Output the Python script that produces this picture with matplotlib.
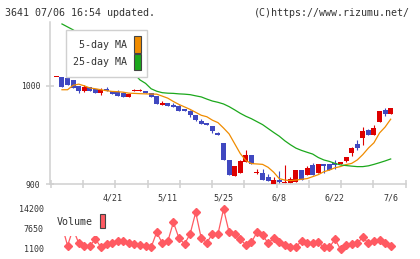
import matplotlib.pyplot as plt
from matplotlib.patches import Patch
import numpy as np

# 61 trading days, 2020/4/7 .. 2020/7/6
date_labels = ['4/21', '5/11', '5/25', '6/8', '6/22', '7/6']
date_index = [10, 20, 30, 40, 50, 60]

opens = [1009, 1009, 1008, 1006, 1000, 995, 999, 997, 993, 997,
         995, 994, 992.5, 989, 995, 995, 995, 993, 990, 980.6,
         982, 980, 979, 976, 974, 970.4, 964.6, 962, 959, 951.7,
         942, 924.5, 908, 911, 922, 929.6, 911.5, 911, 907, 900,
         904, 901.7, 900.7, 901.7, 914, 909, 919.4, 911, 920.4, 920.4,
         921, 920.4, 923.5, 932, 940.8, 947.2, 955.4, 949.4, 963.6, 975.8,
         971]
closes = [1009, 999, 1001, 998, 995, 999, 995, 993, 996, 995,
          992, 990, 989, 991.5, 995, 995, 993, 989, 981, 983,
          979, 978, 974.5, 974, 970.4, 965.3, 961, 960, 954.4, 949.7,
          924.5, 909, 918.4, 923, 929.6, 920, 911.5, 904, 903, 904,
          901.7, 901.7, 905, 914, 904, 916.7, 909, 920.4, 918.4, 914.3,
          919.4, 922.4, 927.6, 937, 937, 954, 949.4, 957, 974.8, 971,
          977.6]
highs = [1009, 1009, 1008, 1006, 1000, 1001, 999, 997, 998, 999,
         995, 996, 994, 991.5, 997, 997, 995, 993, 990, 985,
         982, 983, 980, 976, 975, 970.4, 966, 962, 959, 953,
         942, 924.5, 918.4, 924.5, 934.7, 929.6, 915.3, 915, 910, 907,
         913, 919, 907, 914, 914, 918, 921, 920.4, 920.4, 920.4,
         924.5, 922.4, 927.6, 938, 944.9, 958, 956.5, 960.2, 974.8, 977,
         977.6]
lows = [1009, 999, 1001, 998, 993, 994, 995, 993, 991, 995,
        992, 990, 989, 989, 995, 995, 993, 989, 981, 980.6,
        979, 978, 974.5, 974, 968, 964, 961, 960, 951.7, 949.7,
        924.5, 909, 908, 911, 922, 920, 909.7, 904, 903, 900,
        900, 901, 900.7, 901.7, 904, 909, 909, 911, 911, 914.3,
        915, 920.4, 922, 929, 934.7, 939.8, 949.4, 949.4, 963.6, 969,
        971]

ma5 = [np.nan, 996, 996, 1000.5, 1001.7, 1000, 997.8, 997, 996, 995,
       994.3, 994, 993.5, 992.5, 992.3, 992, 991.8, 991.6, 991.5, 989.5,
       987.4, 984, 981, 978.5, 976, 973, 970, 968.5, 965, 962.5,
       957, 951, 941, 931, 924, 920.8, 920.4, 920, 917, 912,
       905.5, 904, 903.5, 904, 904.8, 905.5, 907.5, 909.5, 912.5, 914.2,
       916.5, 917.8, 919.8, 921, 924.5, 930, 936.6, 942, 952, 958,
       966]
ma25 = [np.nan, 1063, 1060, 1057, 1053, 1049, 1045, 1041, 1037, 1033,
        1029, 1025, 1021, 1016, 1012, 1006, 1002.5, 997, 994.5, 993,
        992.5, 992.3, 991.8, 991.5, 991, 989.8, 988.7, 986.5, 984.5, 983.2,
        981.5, 978.8, 975.5, 972, 969, 966.5, 963.5, 960.5, 956.5, 952.5,
        948.7, 944, 940, 936.5, 934.2, 932.3, 930.5, 927, 924.5, 923,
        921, 919.4, 918.8, 918.2, 917.7, 917.7, 918.5, 920, 921.7, 923.5,
        925.5]

volume = [9000, 8800, 2180, 7700, 2970, 2080, 2080, 4375, 1640, 2740,
          2970, 3620, 3620, 2970, 2740, 2410, 2180, 1640, 6570, 2970,
          3620, 9840, 4600, 2740, 6010, 13100, 4600, 3170, 6010, 6010,
          14200, 6570, 6010, 4270, 2410, 3290, 6570, 5685, 2970, 4600,
          3290, 2410, 1640, 1640, 3830, 2970, 2970, 3290, 1640, 1640,
          4270, 1000, 2410, 2740, 2970, 4930, 2970, 3620, 4050, 2970,
          2080]

RED = '#dd0000'
BLUE = '#4048c0'
ORANGE = '#f08c00'
GREEN = '#1ca81c'
PINK = '#ff5a62'
GRID = '#d0d0d0'
TXT = '#333333'
FONT = 'DejaVu Sans Mono'

plt.rcParams['font.family'] = FONT

o = np.array(opens)
c = np.array(closes)
x = np.arange(len(o))
up = c >= o
cols = np.where(up, RED, BLUE)
body_h = np.maximum(np.abs(c - o), 1.0)
body_b = np.where(np.abs(c - o) < 1.0, o - 0.5, np.minimum(o, c))

fig = plt.figure(figsize=(4.2, 2.59), dpi=100)
ax = fig.add_axes([50 / 420, 1 - 184 / 259, 356 / 420, 162 / 259])
axv = fig.add_axes([50 / 420, 1 - 256 / 259, 356 / 420, 54 / 259])

xmin, xmax = -1.15, 62.75

# price panel
ax.vlines(x, lows, highs, colors=cols, lw=0.8, zorder=2)
ax.bar(x, body_h, bottom=body_b, width=0.9, color=cols, zorder=3)
ax.plot(x, ma5, color=ORANGE, lw=0.9, zorder=4)
ax.plot(x, ma25, color=GREEN, lw=0.9, zorder=4)

ax.set_xlim(xmin, xmax)
ax.set_ylim(900, 1065)
ax.set_yticks([900, 1000])
ax.set_yticklabels(['900', '1000'])
ax.set_xticks(np.linspace(-1.0, 62.7, 12))
ax.set_xticklabels([])
ax.set_xticks(date_index, minor=True)
ax.set_xticklabels(date_labels, minor=True)
ax.tick_params(axis='x', which='major', direction='inout', length=6, width=1.1, color=GRID)
ax.tick_params(axis='x', which='minor', length=0, pad=7, labelsize=6, labelcolor=TXT)
ax.tick_params(axis='y', direction='inout', length=6, width=1.1, color=GRID,
               pad=4, labelsize=5.8, labelcolor=TXT)
for s in ['top', 'right']:
    ax.spines[s].set_visible(False)
for s in ['left', 'bottom']:
    ax.spines[s].set_color(GRID)
    ax.spines[s].set_linewidth(1.1)

leg = ax.legend(handles=[Patch(facecolor=ORANGE, edgecolor='#444444', lw=0.8, label='5-day MA'),
                         Patch(facecolor=GREEN, edgecolor='#444444', lw=0.8, label='25-day MA')],
                loc='upper left', bbox_to_anchor=(0.045, 0.951), markerfirst=False,
                handlelength=0.7, handleheight=2.15, handletextpad=0.7, labelspacing=0.1,
                borderpad=0.65, borderaxespad=0, fontsize=7.2, fancybox=False,
                framealpha=1, edgecolor=GRID)
leg.get_frame().set_linewidth(1.0)
for t in leg.get_texts():
    t.set_color(TXT)

# volume panel
axv.plot(x, volume, color=PINK, lw=0.9, marker='D', ms=3.6, mec=PINK, mfc=PINK, clip_on=False)
axv.set_xlim(xmin, xmax)
axv.set_ylim(-1210, 16490)
axv.set_yticks([1100, 7650, 14200])
axv.set_yticklabels(['1100', '7650', '14200'])
axv.set_xticks([])
axv.tick_params(axis='y', length=0, pad=4.5, labelsize=6, labelcolor=TXT)
for s in axv.spines.values():
    s.set_visible(False)
axv.patch.set_alpha(0)

lv = axv.legend(handles=[Patch(facecolor=PINK, edgecolor='#444444', lw=0.8, label='Volume')],
                loc='upper left', bbox_to_anchor=(-0.003, 0.92), markerfirst=False,
                handlelength=0.5, handleheight=1.8, handletextpad=0.7,
                borderpad=0.8, borderaxespad=0, fontsize=7.2, fancybox=False,
                framealpha=1, edgecolor='none')
for t in lv.get_texts():
    t.set_color(TXT)

fig.text(5 / 420, 1 - 13 / 259, '3641 07/06 16:54 updated.', fontsize=7.2, color=TXT, va='center')
fig.text(410 / 420, 1 - 13 / 259, '(C)https://www.rizumu.net/', fontsize=7.2, color=TXT,
         va='center', ha='right')

fig.savefig('out.png', dpi=100)
